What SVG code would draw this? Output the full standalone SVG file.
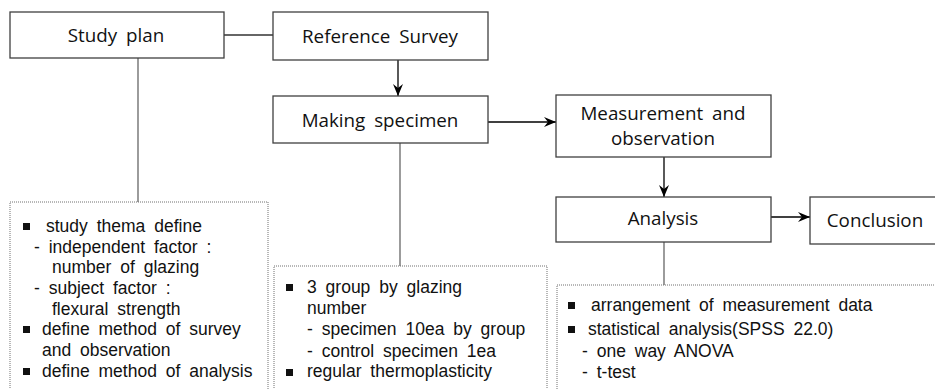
<svg xmlns="http://www.w3.org/2000/svg" width="935" height="389" viewBox="0 0 935 389">
<defs>
<style>
.box{fill:#fff;stroke:#404040;stroke-width:1.3}
.note{fill:#fff;stroke:#707070;stroke-width:1;stroke-dasharray:1 1}
.t{font-family:"Open Sans","Noto Sans",sans-serif;font-size:18.8px;fill:#111;text-anchor:middle;word-spacing:4px}
.b{font-family:"Liberation Sans",Arial,sans-serif;font-size:17.5px;fill:#111;word-spacing:4px}
.arr{stroke:#000;stroke-width:1.3;fill:none;marker-end:url(#ah)}
.ln{stroke:#333;stroke-width:1.3;fill:none}
.gl{stroke:#666;stroke-width:1.3;fill:none}
.sq{fill:#111}
</style>
<marker id="ah" viewBox="0 0 12 10" refX="12" refY="5" markerWidth="12" markerHeight="10" markerUnits="userSpaceOnUse" orient="auto">
<path d="M0,0 L12,5 L0,10 L4,5 Z" fill="#000"/>
</marker>
</defs>
<rect width="935" height="389" fill="#fff"/>
<g id="connectors">
<line class="ln" x1="224" y1="35" x2="273" y2="35"/>
<line class="gl" x1="138" y1="58" x2="138" y2="202"/>
<line class="gl" x1="400" y1="143" x2="400" y2="266"/>
<line class="gl" x1="664" y1="242" x2="664" y2="285"/>
<line class="arr" x1="398" y1="60" x2="398" y2="96"/>
<line class="arr" x1="488" y1="122" x2="556" y2="122"/>
<line class="arr" x1="664" y1="157" x2="664" y2="197"/>
<line class="arr" x1="771" y1="217" x2="810" y2="217"/>
</g>
<g id="study-plan">
<rect class="box" x="10" y="12" width="214" height="46"/>
<text class="t" x="116" y="42">Study plan</text>
</g>
<g id="reference-survey">
<rect class="box" x="273" y="12" width="215" height="48"/>
<text class="t" x="380" y="43">Reference Survey</text>
</g>
<g id="making-specimen">
<rect class="box" x="273" y="96" width="215" height="47"/>
<text class="t" x="380" y="127">Making specimen</text>
</g>
<g id="measurement">
<rect class="box" x="556" y="95" width="215" height="62"/>
<text class="t" x="663" y="120">Measurement and</text>
<text class="t" x="663" y="145">observation</text>
</g>
<g id="analysis">
<rect class="box" x="556" y="197" width="215" height="45"/>
<text class="t" x="663" y="225">Analysis</text>
</g>
<g id="conclusion">
<rect class="box" x="810" y="197" width="140" height="47"/>
<text class="t" x="875" y="227">Conclusion</text>
</g>
<g id="note-study-plan">
<rect class="note" x="10" y="202" width="258" height="200"/>
<rect class="sq" x="23" y="223" width="7" height="7"/>
<text class="b" x="46" y="232">study thema define</text>
<text class="b" x="34" y="252.5">- independent factor :</text>
<text class="b" x="52" y="273">number of glazing</text>
<text class="b" x="34" y="294">- subject factor :</text>
<text class="b" x="52" y="314.5">flexural strength</text>
<rect class="sq" x="23" y="326" width="7" height="7"/>
<text class="b" x="42" y="335">define method of survey</text>
<text class="b" x="42" y="356">and observation</text>
<rect class="sq" x="23" y="368" width="7" height="7"/>
<text class="b" x="42" y="376.5">define method of analysis</text>
</g>
<g id="note-making-specimen">
<rect class="note" x="274" y="266" width="273" height="140"/>
<rect class="sq" x="286" y="284" width="7" height="7"/>
<text class="b" x="307" y="293">3 group by glazing</text>
<text class="b" x="307" y="314">number</text>
<text class="b" x="307" y="335">- specimen 10ea by group</text>
<text class="b" x="307" y="357">- control specimen 1ea</text>
<rect class="sq" x="286" y="369" width="7" height="7"/>
<text class="b" x="307" y="377">regular thermoplasticity</text>
</g>
<g id="note-analysis">
<rect class="note" x="557" y="285" width="400" height="120"/>
<rect class="sq" x="568" y="302" width="7" height="7"/>
<text class="b" x="591" y="311">arrangement of measurement data</text>
<rect class="sq" x="568" y="326" width="7" height="7"/>
<text class="b" x="588" y="335">statistical analysis(SPSS 22.0)</text>
<text class="b" x="582" y="357">- one way ANOVA</text>
<text class="b" x="582" y="378">- t-test</text>
</g>
</svg>
